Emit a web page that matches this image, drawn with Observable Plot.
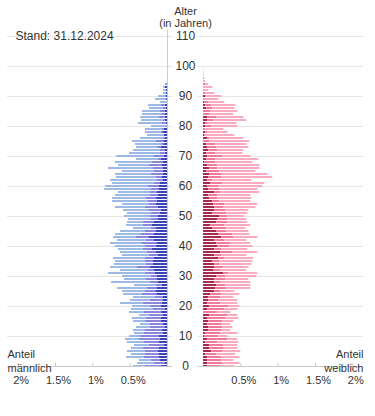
<!DOCTYPE html>
<html>
<head>
<meta charset="utf-8">
<script src="https://cdn.jsdelivr.net/npm/d3@7"></script>
<script src="https://cdn.jsdelivr.net/npm/@observablehq/plot@0.6"></script>
<style>
  body { margin: 0; background: #fff; }
</style>
</head>
<body>
<div id="chart"></div>
<script>
// Anteil an der Gesamtbevölkerung in %, je Altersjahr (Index = Alter)
const maleDark = [.080,.027,.094,.107,.107,.121,.107,.040,.107,.094,.107,.054,.067,.027,.054,.080,.080,.054,.080,.027,
  .080,.067,.054,.054,.134,.147,.134,.067,.121,.134,.134,.161,.174,.228,.188,.188,.174,.121,.147,.201,
  .147,.134,.174,.241,.174,.147,.147,.201,.174,.121,.121,.094,.080,.121,.147,.134,.147,.121,.134,.107,
  .107,.094,.054,.067,.054,.054,.054,.067,.054,.080,.040,.031,.027,.080,.040,.040,.027,.040,.054,.040,
  .009,.018,.031,.031,.031,.031,.018,.031,.004,.018,.013,.018,.018,.031,.009];
const maleMid = [.214,.147,.121,.201,.188,.174,.214,.201,.201,.281,.254,.254,.228,.201,.174,.214,.201,.188,.228,.161,
  .147,.254,.174,.107,.201,.147,.134,.080,.107,.147,.080,.134,.080,.174,.094,.107,.121,.121,.121,.121,
  .147,.201,.107,.174,.174,.147,.067,.121,.147,.094,.107,.121,.161,.174,.094,.121,.134,.107,.094,.107,
  .147,.080,.080,.080,.161,.121,.134,.174,.147,.040,.134,.063,.067,.054,.040,.107,.027,0,.027,.027,
  0,.049,.022,.076,.036,.063,.036,.049,0,0,.013,0,0,0,0];
const maleLight = [.161,.228,.161,.241,.188,.241,.161,.201,.228,.188,.147,.134,.161,.188,.134,.161,.188,.134,.201,.295,
  .241,.308,.268,.295,.254,.308,.402,.295,.522,.295,.388,.496,.375,.362,.429,.402,.429,.362,.362,.335,
  .402,.429,.388,.308,.348,.335,.241,.228,.214,.308,.348,.321,.348,.402,.362,.482,.455,.469,.429,.629,
  .576,.563,.629,.536,.482,.429,.603,.415,.496,.295,.509,.415,.362,.281,.348,.321,.308,.228,.214,.228,
  .205,.321,.295,.254,.268,.241,.188,.174,.089,.143,.094,.036,.036,.022,.018];

const femaleDark = [.058,.058,.058,.058,.031,.112,.085,.085,.031,.058,.018,.031,.071,.071,.058,.071,.058,.085,.004,.058,
  .085,.058,.071,.071,.098,.152,.165,.179,.152,.152,.179,.272,.138,.152,.152,.125,.205,.152,.232,.152,
  .192,.179,.152,.246,.205,.179,.125,.098,.179,.192,.219,.125,.152,.152,.138,.125,.085,.071,.152,.071,
  .058,.098,.058,.071,.085,.045,.085,.058,.018,.045,.058,.045,.071,.058,.045,.004,.058,.018,.031,0,
  .031,.031,.058,.058,.004,.004,.045,.031,.018,0,.031,0,0,0,0,0,0,0,0,0];
const femaleMid = [.174,.201,.188,.188,.147,.147,.188,.188,.161,.268,.188,.201,.174,.188,.188,.188,.241,.241,.188,.228,
  .254,.174,.134,.161,.147,.080,.147,.121,.080,.147,.121,.067,.094,.121,.067,.094,.080,.094,.161,.094,
  .161,.188,.134,.161,.188,.134,.188,.188,.147,.134,.107,.188,.147,.121,.147,.094,.107,.121,.080,.147,
  .147,.161,.067,.174,.161,.174,.107,.134,.147,.121,.201,.121,.121,.121,.121,.080,.027,.009,.027,.031,
  .080,.027,.080,.121,.080,.094,.080,.080,.054,.013,.013,.031,0,.009,.031,0,0,0,0,0];
const femaleLight = [.188,.228,.161,.241,.254,.241,.188,.188,.281,.134,.121,.228,.121,.134,.121,.147,.174,.134,.174,.174,
  .147,.228,.254,.174,.241,.188,.321,.335,.402,.308,.415,.388,.348,.335,.429,.442,.388,.335,.335,.348,
  .308,.268,.295,.321,.228,.295,.254,.348,.268,.254,.228,.281,.308,.429,.442,.415,.455,.442,.522,.509,
  .589,.563,.522,.683,.616,.482,.563,.563,.496,.576,.375,.362,.348,.429,.415,.536,.455,.393,.268,.241,
  .348,.388,.442,.362,.321,.362,.295,.321,.214,.192,.201,.121,.071,.116,.040,.031,.018,.010,.008,.005];

const categories = ["dunkel", "mittel", "hell"];
const ageTicks = [0, 10, 20, 30, 40, 50, 60, 70, 80, 90, 100, 110];
const shareTicks = [0.5, 1, 1.5, 2];
const shareTickLabels = ["0.5%", "1%", "1.5%", "2%"];

const colors = {
  m: {dunkel: "#3a43b8", mittel: "#8a86db", hell: "#9dbae4"},
  w: {dunkel: "#a62a4f", mittel: "#f07a9d", hell: "#fcaabf"}
};

// layout constants (half-gap between the two sides, in % units)
const G = 0.241;
const EDGE = 2.143 + G;
const TK = 0.07;

function stackSide(side, arrays) {
  const rows = [];
  const n = arrays[0].length;
  for (let age = 0; age < n; age++) {
    let s = 0;
    arrays.forEach((arr, k) => {
      const v = arr[age];
      rows.push({age, side, cat: categories[k], a: s, b: s + v});
      s += v;
    });
  }
  return rows;
}
const rows = [
  ...stackSide("m", [maleDark, maleMid, maleLight]),
  ...stackSide("w", [femaleDark, femaleMid, femaleLight])
];
const pos = (d, v) => d.side === "m" ? -(G + v) : G + v;

const font = "'Liberation Sans', Arial, sans-serif";
const txt = "#333333";

const chart = Plot.plot({
  width: 375,
  height: 416,
  marginLeft: 7,
  marginRight: 12,
  marginTop: 36,
  marginBottom: 50,
  x: {domain: [-EDGE, EDGE], axis: null},
  y: {domain: [0, 110], axis: null},
  style: {fontFamily: font, fontSize: "11px", background: "#fff", overflow: "visible"},
  marks: [
    // grid lines
    Plot.ruleY(ageTicks.filter(a => a > 0), {y: d => d, x1: -EDGE, x2: -G + TK, stroke: "#e6e6e6"}),
    Plot.ruleY(ageTicks.filter(a => a > 0), {y: d => d, x1: G - TK, x2: EDGE, stroke: "#e6e6e6"}),
    // bars
    Plot.rectX(rows, {
      x1: d => pos(d, d.a), x2: d => pos(d, d.b),
      y1: d => d.age - 0.5, y2: d => d.age + 0.5,
      insetTop: 0.5, insetBottom: 0.5,
      fill: d => colors[d.side][d.cat]
    }),
    // baseline axes
    Plot.ruleY([0], {x1: -EDGE, x2: -G + TK, stroke: "#cccccc"}),
    Plot.ruleY([0], {x1: G - TK, x2: EDGE, stroke: "#cccccc"}),
    Plot.ruleX([-G], {y1: 0, y2: 112, stroke: "#cccccc"}),
    Plot.ruleX(shareTicks, {x: d => -(G + d), y1: 0, y2: 1, stroke: "#cccccc"}),
    Plot.ruleX(shareTicks, {x: d => G + d, y1: 0, y2: 1, stroke: "#cccccc"}),
    // age labels
    Plot.text(ageTicks, {x: 0, y: d => d, text: d => String(d), fill: txt, fontSize: 12}),
    // share tick labels
    Plot.text(shareTicks, {x: d => -(G + d), frameAnchor: "bottom", dy: 17.5, dx: 3,
      text: (d, i) => shareTickLabels[i], fill: txt}),
    Plot.text(shareTicks, {x: d => G + d, frameAnchor: "bottom", dy: 17.5, dx: 3,
      text: (d, i) => shareTickLabels[i], fill: txt}),
    // titles
    Plot.text(["Alter"], {x: 0, frameAnchor: "top", dy: -29, fill: txt}),
    Plot.text(["(in Jahren)"], {x: 0, frameAnchor: "top", dy: -17, fill: txt}),
    Plot.text(["Stand: 31.12.2024"], {frameAnchor: "top-left", textAnchor: "start", dx: 8, dy: -5, fontSize: 12, fill: txt}),
    Plot.text(["Anteil"], {frameAnchor: "bottom-left", textAnchor: "start", dy: -9, fill: txt}),
    Plot.text(["männlich"], {frameAnchor: "bottom-left", textAnchor: "start", dy: 5.5, fill: txt}),
    Plot.text(["Anteil"], {frameAnchor: "bottom-right", textAnchor: "end", dy: -9, fill: txt}),
    Plot.text(["weiblich"], {frameAnchor: "bottom-right", textAnchor: "end", dy: 5.5, fill: txt})
  ]
});
document.getElementById("chart").appendChild(chart);
</script>
</body>
</html>
